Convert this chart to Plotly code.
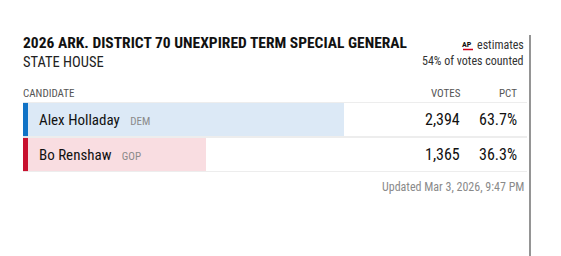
import plotly.graph_objects as go

W, H = 561, 256

title = "2026 ARK. DISTRICT 70 UNEXPIRED TERM SPECIAL GENERAL"
subtitle = "STATE HOUSE"
reporting = "54% of votes counted"
updated = "Updated Mar 3, 2026, 9:47 PM"

candidates = ["Alex Holladay", "Bo Renshaw"]
parties = ["DEM", "GOP"]
votes = [2394, 1365]
pcts = [63.7, 36.3]
bg_colors = ["#dce9f6", "#f9dde1"]
accent_colors = ["#1173c6", "#c8102e"]

FONT = "Liberation Sans Narrow, Roboto Condensed, Arial Narrow, sans-serif"

def px(x):
    return x / W

def py(y):
    return 1 - y / H

tbl_left, tbl_right = 23, 527
tbl_top, tbl_bottom = 102, 172

fig = go.Figure()
rows = list(range(len(candidates)))
fig.add_trace(go.Bar(
    x=pcts, y=rows, orientation="h",
    marker=dict(color=bg_colors, line=dict(width=0)),
    width=0.95, hoverinfo="skip", showlegend=False,
))

fig.update_layout(
    width=W, height=H,
    margin=dict(l=0, r=0, t=0, b=0),
    paper_bgcolor="white", plot_bgcolor="white",
    xaxis=dict(domain=[px(tbl_left), px(tbl_right)], range=[0, 100],
               visible=False, fixedrange=True),
    yaxis=dict(domain=[py(tbl_bottom), py(tbl_top)], range=[1.5, -0.5],
               visible=False, fixedrange=True),
    bargap=0, font=dict(family=FONT),
)

shapes = []
for i, c in enumerate(accent_colors):
    shapes.append(dict(type="rect", xref="paper", yref="y",
                       x0=px(tbl_left), x1=px(tbl_left + 5),
                       y0=i - 0.475, y1=i + 0.475,
                       fillcolor=c, line=dict(width=0), layer="above"))
for b in [-0.5, 0.5, 1.5]:
    shapes.append(dict(type="line", xref="paper", yref="y",
                       x0=px(tbl_left), x1=px(tbl_right), y0=b, y1=b,
                       line=dict(color="#dcdcdc", width=1.2), layer="above"))
shapes.append(dict(type="line", xref="paper", yref="paper",
                   x0=px(530), x1=px(530), y0=py(35), y1=0,
                   line=dict(color="#7a7a7a", width=1.6)))
shapes.append(dict(type="line", xref="paper", yref="paper",
                   x0=px(463), x1=px(473), y0=py(49.5), y1=py(49.5),
                   line=dict(color="#d0021b", width=1.5)))

ann = []
def text(x, y, s, size, color="#222", anchor="left", bold=False):
    ann.append(dict(xref="paper", yref="paper", x=px(x), y=py(y),
                    text=f"<b>{s}</b>" if bold else s, showarrow=False,
                    xanchor=anchor, yanchor="middle",
                    font=dict(size=size, color=color, family=FONT)))

text(21, 42.5, title, 15.5, "#111", bold=True)
text(21, 62, subtitle, 14.5, "#222")
text(473.5, 44.5, "<b>AP</b>", 8, "#111", anchor="right")
text(526, 45, "estimates", 12, "#333", anchor="right")
text(526, 61, reporting, 12, "#333", anchor="right")
text(21, 93, "CANDIDATE", 11, "#555")
text(463, 93, "VOTES", 11, "#555", anchor="right")
text(519, 93, "PCT", 11, "#555", anchor="right")

row_centers = [119.5, 154.5]
for i, cy in enumerate(row_centers):
    ann.append(dict(xref="paper", yref="paper", x=px(37), y=py(cy),
                    text=f"{candidates[i]}   <span style='font-size:11px;color:#8a8a8a'>{parties[i]}</span>",
                    showarrow=False, xanchor="left", yanchor="middle",
                    font=dict(size=15, color="#111", family=FONT)))
    text(462, cy, f"{votes[i]:,}", 16, "#111", anchor="right")
    text(519, cy, f"{pcts[i]:.1f}%", 16, "#111", anchor="right")

text(526, 187, updated, 12, "#8a8a8a", anchor="right")

fig.update_layout(shapes=shapes, annotations=ann)
fig.write_html("out.html")
